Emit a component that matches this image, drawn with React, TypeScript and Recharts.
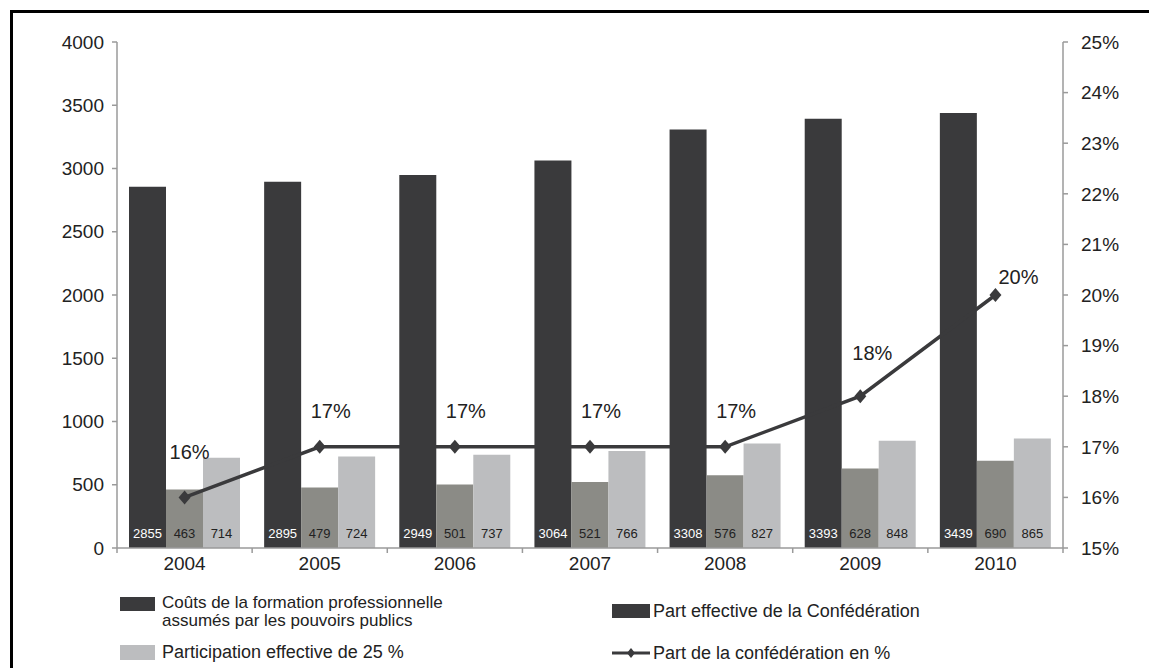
import React from 'react';
import { ComposedChart, Bar, Line, XAxis, YAxis, LabelList } from 'recharts';

const years = ['2004', '2005', '2006', '2007', '2008', '2009', '2010'];
const coutsPublics = [2855, 2895, 2949, 3064, 3308, 3393, 3439];
const partConfederation = [463, 479, 501, 521, 576, 628, 690];
const participation25 = [714, 724, 737, 766, 827, 848, 865];
const partPct = [16, 17, 17, 17, 17, 18, 20];
const leftTicks = [0, 500, 1000, 1500, 2000, 2500, 3000, 3500, 4000];
const rightTicks = [15, 16, 17, 18, 19, 20, 21, 22, 23, 24, 25];

const legendCouts = ['Coûts de la formation professionnelle', 'assumés par les pouvoirs publics'];
const legendPart = 'Part effective de la Confédération';
const legendParticip = 'Participation effective de 25 %';
const legendPct = 'Part de la confédération en %';

// label placement (style only)
const pctLabelDx = [5, 11, 11, 11, 11, 12, 23];
const pctLabelDy = [-45, -36, -36, -36, -36, -43, -18];

const DARK = '#3a3a3c';
const MID = '#8b8b86';
const LIGHT = '#bcbdbf';
const AXIS = '#9a9a9a';
const TEXT = '#222222';
const FONT = '"Liberation Sans", Arial, sans-serif';

const data = years.map((year, i) => ({
  year,
  couts: coutsPublics[i],
  part: partConfederation[i],
  particip: participation25[i],
  pct: partPct[i],
}));

const XTick = (props: any) => {
  const { x, y, payload, index, visibleTicksCount } = props;
  const half = payload && payload.offset ? payload.offset : 67.6;
  const count = visibleTicksCount || years.length;
  return (
    <g>
      <line x1={x - half} y1={y - 8} x2={x - half} y2={y - 3} stroke={AXIS} strokeWidth={1.5} />
      {index === count - 1 && (
        <line x1={x + half} y1={y - 8} x2={x + half} y2={y - 3} stroke={AXIS} strokeWidth={1.5} />
      )}
      <text x={x} y={y + 14} textAnchor="middle" fontSize={19} fill={TEXT} fontFamily={FONT}>
        {payload.value}
      </text>
    </g>
  );
};

const Diamond = (props: any) => {
  const { cx, cy } = props;
  if (cx == null || cy == null) return null;
  return (
    <polygon
      points={`${cx},${cy - 7} ${cx + 6},${cy} ${cx},${cy + 7} ${cx - 6},${cy}`}
      fill={DARK}
    />
  );
};

const PctLabel = (props: any) => {
  const { x, y, value, index } = props;
  return (
    <text
      x={x + pctLabelDx[index]}
      y={y + pctLabelDy[index]}
      textAnchor="middle"
      dominantBaseline="central"
      fontSize={20}
      fill={TEXT}
      fontFamily={FONT}
    >
      {`${value}%`}
    </text>
  );
};

export default function App() {
  return (
    <div
      style={{
        position: 'absolute',
        left: 0,
        top: 0,
        width: 1149,
        height: 668,
        background: '#fff',
        overflow: 'hidden',
        fontFamily: FONT,
      }}
    >
      <div
        style={{
          position: 'absolute',
          left: 10,
          top: 10,
          width: 1200,
          height: 700,
          borderLeft: '3px solid #000',
          borderTop: '3px solid #000',
        }}
      />
      <div style={{ position: 'absolute', left: 0, top: 0 }}>
        <ComposedChart
          width={1149}
          height={668}
          data={data}
          margin={{ top: 42, right: 0, bottom: 90, left: 0 }}
          barGap={0}
          barSize={37}
        >
          <XAxis
            dataKey="year"
            height={30}
            axisLine={{ stroke: AXIS, strokeWidth: 1.5 }}
            tickLine={false}
            tick={<XTick />}
            interval={0}
          />
          <YAxis
            yAxisId="left"
            width={117}
            domain={[0, 4000]}
            ticks={leftTicks}
            axisLine={{ stroke: AXIS, strokeWidth: 1.5 }}
            tickLine={{ stroke: AXIS, strokeWidth: 1.5 }}
            tickSize={5}
            tickMargin={8}
            tick={{ fontSize: 19, fill: TEXT, fontFamily: FONT }}
            interval={0}
          />
          <YAxis
            yAxisId="right"
            orientation="right"
            width={86}
            domain={[15, 25]}
            ticks={rightTicks}
            tickFormatter={(v: number) => `${v}%`}
            axisLine={{ stroke: AXIS, strokeWidth: 1.5 }}
            tickLine={{ stroke: AXIS, strokeWidth: 1.5 }}
            tickSize={5}
            tickMargin={13}
            tick={{ fontSize: 19, fill: TEXT, fontFamily: FONT }}
            interval={0}
          />
          <Bar yAxisId="left" dataKey="couts" fill={DARK} isAnimationActive={false}>
            <LabelList dataKey="couts" position="insideBottom" offset={10} fontSize={13} fill="#ffffff" fontFamily={FONT} />
          </Bar>
          <Bar yAxisId="left" dataKey="part" fill={MID} isAnimationActive={false}>
            <LabelList dataKey="part" position="insideBottom" offset={10} fontSize={13} fill={TEXT} fontFamily={FONT} />
          </Bar>
          <Bar yAxisId="left" dataKey="particip" fill={LIGHT} isAnimationActive={false}>
            <LabelList dataKey="particip" position="insideBottom" offset={10} fontSize={13} fill={TEXT} fontFamily={FONT} />
          </Bar>
          <Line
            yAxisId="right"
            dataKey="pct"
            stroke={DARK}
            strokeWidth={3.5}
            dot={<Diamond />}
            activeDot={false}
            isAnimationActive={false}
          >
            <LabelList dataKey="pct" content={<PctLabel />} />
          </Line>
        </ComposedChart>
      </div>

      {/* Legend */}
      <div style={{ position: 'absolute', left: 120, top: 597, width: 35, height: 14, background: DARK }} />
      <div style={{ position: 'absolute', left: 162, top: 594, fontSize: 17, lineHeight: '18px', color: TEXT }}>
        <div>{legendCouts[0]}</div>
        <div>{legendCouts[1]}</div>
      </div>
      <div style={{ position: 'absolute', left: 120, top: 645, width: 35, height: 15, background: LIGHT }} />
      <div style={{ position: 'absolute', left: 162, top: 642, fontSize: 18, lineHeight: '20px', color: TEXT }}>
        {legendParticip}
      </div>
      <div style={{ position: 'absolute', left: 612, top: 604, width: 38, height: 14, background: DARK }} />
      <div style={{ position: 'absolute', left: 653, top: 601, fontSize: 18, lineHeight: '20px', color: TEXT }}>
        {legendPart}
      </div>
      <svg style={{ position: 'absolute', left: 610, top: 644 }} width={44} height={18}>
        <line x1={2} y1={9} x2={40} y2={9} stroke={DARK} strokeWidth={3} />
        <polygon points="21,4 25,9 21,14 17,9" fill={DARK} />
      </svg>
      <div style={{ position: 'absolute', left: 653, top: 643, fontSize: 18, lineHeight: '20px', color: TEXT }}>
        {legendPct}
      </div>
    </div>
  );
}
